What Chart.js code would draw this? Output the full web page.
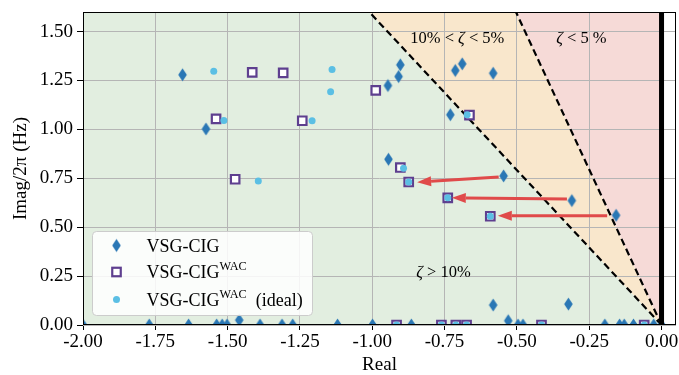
<!DOCTYPE html>
<html>
<head>
<meta charset="utf-8">
<script src="https://cdn.jsdelivr.net/npm/chart.js@4.4.0/dist/chart.umd.min.js"></script>
<style>
  html, body { margin: 0; padding: 0; background: #fff; }
</style>
</head>
<body>
<canvas id="modes" width="679" height="375"></canvas>
<script>
// Eigenvalues, real part [1/s] vs imag/2pi [Hz]
const cigReal = [-1.656, -1.575, -0.903, -0.909, -0.946, -0.713, -0.689, -0.582, -0.730, -0.944,
                 -0.546, -0.310, -0.157, -0.582, -0.322, -0.530, -1.460,
                 -2.000, -1.771, -1.635, -1.538, -1.519, -1.502, -1.388, -1.312, -1.275, -1.120,
                 -0.999, -0.865, -0.496, -0.479, -0.196, -0.145, -0.129, -0.097, -0.027, 0.000];
const cigImag = [1.279, 1.002, 1.330, 1.270, 1.224, 1.301, 1.335, 1.287, 1.075, 0.847,
                 0.762, 0.636, 0.561, 0.102, 0.107, 0.022, 0.025,
                 0, 0, 0, 0, 0, 0, 0, 0, 0, 0,
                 0, 0, 0, 0, 0, 0, 0, 0, 0, 0];

const wacReal = [-1.415, -1.308, -0.988, -1.540, -1.242, -0.664, -1.474, -0.903, -0.874, -0.739, -0.592,
                 -0.916, -0.761, -0.711, -0.674, -0.415, -0.060];
const wacImag = [1.291, 1.289, 1.199, 1.054, 1.044, 1.073, 0.745, 0.805, 0.731, 0.650, 0.556,
                 0, 0, 0, 0, 0, 0];

const idealReal = [-1.548, -1.139, -1.144, -1.513, -1.208, -0.672, -1.394, -0.892, -0.874, -0.739, -0.592,
                   -0.916, -0.761, -0.711, -0.674, -0.415, -0.060];
const idealImag = [1.297, 1.306, 1.192, 1.046, 1.044, 1.075, 0.736, 0.801, 0.731, 0.650, 0.556,
                   0, 0, 0, 0, 0, 0];

// modes moved by the WAC
const shiftFromReal = [-0.563, -0.327, -0.188];
const shiftFromImag = [0.757, 0.644, 0.558];
const shiftToReal = [-0.845, -0.725, -0.566];
const shiftToImag = [0.730, 0.650, 0.558];

const zetaLimits = [0.10, 0.05];
const xTicks = [-2.00, -1.75, -1.50, -1.25, -1.00, -0.75, -0.50, -0.25, 0.00];
const yTicks = [0.00, 0.25, 0.50, 0.75, 1.00, 1.25, 1.50];

const SERIF = '"Liberation Serif", "Times New Roman", serif';
const C_CIG = '#2a77b5';
const C_WAC = '#5e3f8f';
const C_IDEAL = '#5bbfe4';
const C_ARROW = '#e04a4a';

function pts(xs, ys) { return xs.map((x, i) => ({ x, y: ys[i] })); }

function diamondMarker(hw, hh, color) {
  const c = document.createElement('canvas');
  c.width = Math.ceil(hw * 2) + 2;
  c.height = Math.ceil(hh * 2) + 2;
  const g = c.getContext('2d');
  const cx = c.width / 2, cy = c.height / 2;
  g.fillStyle = color;
  g.beginPath();
  g.moveTo(cx, cy - hh); g.lineTo(cx + hw, cy); g.lineTo(cx, cy + hh); g.lineTo(cx - hw, cy);
  g.closePath();
  g.fill();
  return c;
}
const diamond = diamondMarker(4.3, 6.6, C_CIG);

// text with italic / superscript pieces
function richText(ctx, parts, x, y, size, align) {
  const fontFor = p => (p.italic ? 'italic ' : '') + (p.sup ? size * 0.68 : size) + 'px ' + SERIF;
  let w = 0;
  parts.forEach(p => { ctx.font = fontFor(p); w += ctx.measureText(p.t).width; });
  let cx = align === 'center' ? x - w / 2 : x;
  ctx.textAlign = 'left';
  ctx.textBaseline = 'alphabetic';
  parts.forEach(p => {
    ctx.font = fontFor(p);
    ctx.fillText(p.t, cx, p.sup ? y - size * 0.42 : y);
    cx += ctx.measureText(p.t).width;
  });
}

const zoneLabels = [
  { x: -0.706, y: 1.439, parts: [{ t: '10% < ' }, { t: 'ζ', italic: true }, { t: ' < 5%' }] },
  { x: -0.277, y: 1.439, parts: [{ t: 'ζ', italic: true }, { t: ' < 5 %' }] },
  { x: -0.754, y: 0.245, parts: [{ t: 'ζ', italic: true }, { t: ' > 10%' }] }
];

const legendItems = [
  { marker: 'diamond', parts: [{ t: 'VSG-CIG' }] },
  { marker: 'square', parts: [{ t: 'VSG-CIG' }, { t: 'WAC', sup: true }] },
  { marker: 'dot', parts: [{ t: 'VSG-CIG' }, { t: 'WAC', sup: true }, { t: '  (ideal)' }] }
];

function zetaSlope(z) { return Math.sqrt(1 - z * z) / z / (2 * Math.PI); }

const zonesPlugin = {
  id: 'zones',
  beforeDraw(chart) {
    const { ctx, chartArea: a, scales: { x, y } } = chart;
    const top = y.max;
    const x10 = -top / zetaSlope(zetaLimits[0]);
    const x5 = -top / zetaSlope(zetaLimits[1]);
    const poly = (list, color) => {
      ctx.beginPath();
      list.forEach(([px, py], i) => {
        const X = x.getPixelForValue(px), Y = y.getPixelForValue(py);
        i ? ctx.lineTo(X, Y) : ctx.moveTo(X, Y);
      });
      ctx.closePath();
      ctx.fillStyle = color;
      ctx.fill();
    };
    ctx.save();
    ctx.beginPath(); ctx.rect(a.left, a.top, a.right - a.left, a.bottom - a.top); ctx.clip();
    poly([[x.min, 0], [0, 0], [x10, top], [x.min, top]], '#e2eee0');
    poly([[0, 0], [x10, top], [x5, top]], '#f9e7cc');
    poly([[0, 0], [x5, top], [0, top]], '#f6dad7');
    ctx.restore();
  },
  beforeDatasetsDraw(chart) {
    const { ctx, chartArea: a, scales: { x, y } } = chart;
    ctx.save();
    ctx.beginPath(); ctx.rect(a.left, a.top, a.right - a.left, a.bottom - a.top); ctx.clip();
    ctx.strokeStyle = '#000';
    ctx.lineWidth = 2.2;
    ctx.setLineDash([7, 4]);
    zetaLimits.forEach(z => {
      ctx.beginPath();
      ctx.moveTo(x.getPixelForValue(0), y.getPixelForValue(0));
      ctx.lineTo(x.getPixelForValue(-y.max / zetaSlope(z)), y.getPixelForValue(y.max));
      ctx.stroke();
    });
    ctx.restore();
  },
  afterDatasetsDraw(chart) {
    const { ctx, chartArea: a, scales: { x, y } } = chart;
    ctx.save();

    // stability limit
    ctx.fillStyle = '#000';
    const x0 = x.getPixelForValue(0);
    ctx.fillRect(x0 - 2.5, a.top, 5, a.bottom - a.top);

    // arrows
    ctx.strokeStyle = C_ARROW;
    ctx.fillStyle = C_ARROW;
    ctx.lineWidth = 3;
    shiftFromReal.forEach((_, i) => {
      const X0 = x.getPixelForValue(shiftFromReal[i]), Y0 = y.getPixelForValue(shiftFromImag[i]);
      const X1 = x.getPixelForValue(shiftToReal[i]), Y1 = y.getPixelForValue(shiftToImag[i]);
      const ang = Math.atan2(Y1 - Y0, X1 - X0);
      const hl = 14, hw = 5;
      const bx = X1 - hl * Math.cos(ang), by = Y1 - hl * Math.sin(ang);
      ctx.beginPath(); ctx.moveTo(X0, Y0); ctx.lineTo(bx, by); ctx.stroke();
      ctx.beginPath();
      ctx.moveTo(X1, Y1);
      ctx.lineTo(bx - hw * Math.sin(ang), by + hw * Math.cos(ang));
      ctx.lineTo(bx + hw * Math.sin(ang), by - hw * Math.cos(ang));
      ctx.closePath();
      ctx.fill();
    });

    // zone labels
    ctx.fillStyle = '#000';
    zoneLabels.forEach(l => richText(ctx, l.parts, x.getPixelForValue(l.x), y.getPixelForValue(l.y), 16.5, 'center'));

    // frame
    ctx.strokeStyle = '#000';
    ctx.lineWidth = 1;
    ctx.strokeRect(a.left + 0.5, a.top + 0.5, a.right - a.left - 1, a.bottom - a.top - 1);

    // legend
    const lx = a.left + 9.5, ly = a.bottom - 93.5, lw = 220, lh = 84;
    ctx.beginPath();
    ctx.roundRect(lx, ly, lw, lh, 4);
    ctx.fillStyle = 'rgba(255,255,255,0.85)';
    ctx.fill();
    ctx.strokeStyle = '#cccccc';
    ctx.lineWidth = 1;
    ctx.stroke();
    const rows = [14, 40.5, 68];
    legendItems.forEach((item, i) => {
      const my = ly + rows[i], mx = lx + 24;
      if (item.marker === 'diamond') {
        ctx.drawImage(diamond, mx - diamond.width / 2, my - diamond.height / 2);
      } else if (item.marker === 'square') {
        ctx.fillStyle = '#fff';
        ctx.fillRect(mx - 4.25, my - 4.25, 8.5, 8.5);
        ctx.strokeStyle = C_WAC;
        ctx.lineWidth = 2.2;
        ctx.strokeRect(mx - 4.25, my - 4.25, 8.5, 8.5);
      } else {
        ctx.fillStyle = C_IDEAL;
        ctx.beginPath(); ctx.arc(mx, my, 3.5, 0, Math.PI * 2); ctx.fill();
      }
      ctx.fillStyle = '#000';
      richText(ctx, item.parts, lx + 54, my + 6, 18, 'left');
    });
    ctx.restore();
  }
};

const tickFont = { family: SERIF, size: 19 };

// fixed axis boxes, no extra label padding around the plot
function fixBox(size) {
  return s => {
    if (s.isHorizontal()) s.height = size; else s.width = size;
    s.paddingTop = 0; s.paddingBottom = 0; s.paddingLeft = 0; s.paddingRight = 0;
  };
}

new Chart(document.getElementById('modes'), {
  type: 'scatter',
  data: {
    datasets: [
      {
        label: 'VSG-CIG',
        data: pts(cigReal, cigImag),
        pointStyle: diamond,
        pointRadius: 6,
        clip: 0,
        order: 3
      },
      {
        label: 'VSG-CIG WAC',
        data: pts(wacReal, wacImag),
        pointStyle: 'rect',
        pointRadius: 6,
        borderWidth: 2.2,
        borderColor: C_WAC,
        backgroundColor: '#ffffff',
        clip: 0,
        order: 2
      },
      {
        label: 'VSG-CIG WAC (ideal)',
        data: pts(idealReal, idealImag),
        pointStyle: 'circle',
        pointRadius: 3.5,
        borderWidth: 0,
        backgroundColor: C_IDEAL,
        clip: 0,
        order: 1
      }
    ]
  },
  options: {
    responsive: false,
    animation: false,
    events: [],
    layout: { autoPadding: false, padding: { top: 12, right: 3, left: 0, bottom: 0 } },
    plugins: { legend: { display: false }, tooltip: { enabled: false } },
    scales: {
      x: {
        type: 'linear',
        min: -2.0,
        max: 0.05,
        afterBuildTicks: s => { s.ticks = xTicks.map(v => ({ value: v })); },
        afterFit: fixBox(50),
        ticks: { font: tickFont, color: '#000', padding: 1, maxRotation: 0, callback: v => v.toFixed(2) },
        grid: { color: '#b5b5b5', lineWidth: 1, tickColor: '#000', tickLength: 5 },
        border: { display: false },
        title: { display: true, text: 'Real', font: { family: SERIF, size: 19, lineHeight: 1.0 }, color: '#000', padding: { top: 0, bottom: 0 } }
      },
      y: {
        type: 'linear',
        min: 0,
        max: 1.6,
        afterBuildTicks: s => { s.ticks = yTicks.map(v => ({ value: v })); },
        afterFit: fixBox(83),
        ticks: { font: tickFont, color: '#000', padding: 4, callback: v => v.toFixed(2) },
        grid: { color: '#b5b5b5', lineWidth: 1, tickColor: '#000', tickLength: 6 },
        border: { display: false },
        title: { display: true, text: 'Imag/2π (Hz)', font: { family: SERIF, size: 19 }, color: '#000', padding: { top: 10, bottom: 0 } }
      }
    }
  },
  plugins: [zonesPlugin]
});
</script>
</body>
</html>
